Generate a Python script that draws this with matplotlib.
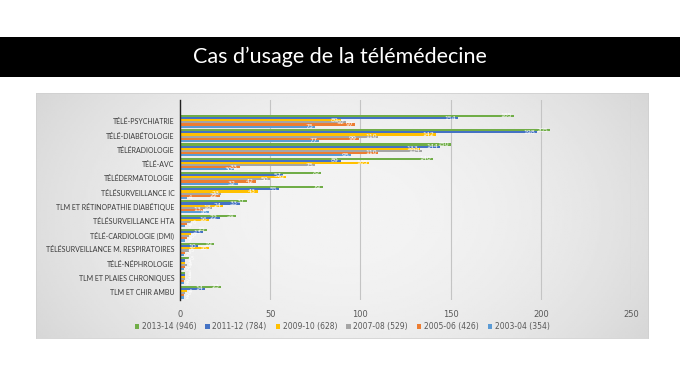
import matplotlib.pyplot as plt
import numpy as np

# données
categories = ['TÉLÉ-PSYCHIATRIE', 'TÉLÉ-DIABÉTOLOGIE', 'TÉLÉRADIOLOGIE', 'TÉLÉ-AVC',
              'TÉLÉDERMATOLOGIE', 'TÉLÉSURVEILLANCE IC', 'TLM ET RÉTINOPATHIE DIABÉTIQUE',
              'TÉLÉSURVEILLANCE HTA', 'TÉLÉ-CARDIOLOGIE (DMI)',
              'TÉLÉSURVEILLANCE M. RESPIRATOIRES', 'TÉLÉ-NÉPHROLOGIE',
              'TLM ET PLAIES CHRONIQUES', 'TLM ET CHIR AMBU']
v_2013_14 = [185, 205, 150, 140, 78, 79, 37, 31, 15, 19, 5, 3, 23]
v_2011_12 = [154, 198, 144, 89, 57, 55, 33, 22, 13, 10, 3, 3, 14]
v_2009_10 = [89, 142, 133, 105, 59, 43, 24, 16, 6, 16, 3, 3, 4]
v_2007_08 = [92, 110, 134, 75, 50, 23, 18, 6, 5, 5, 4, 3, 3]
v_2005_06 = [97, 99, 110, 33, 42, 22, 13, 4, 4, 3, 3, 2, 2]
v_2003_04 = [75, 77, 95, 30, 32, 4, 16, 3, 3, 2, 2, 2, 2]
series = ['2013-14 (946)', '2011-12 (784)', '2009-10 (628)',
          '2007-08 (529)', '2005-06 (426)', '2003-04 (354)']
valeurs = [v_2013_14, v_2011_12, v_2009_10, v_2007_08, v_2005_06, v_2003_04]
couleurs = ['#70AD47', '#4472C4', '#FFC000', '#A5A5A5', '#ED7D31', '#5B9BD5']

fig = plt.figure(figsize=(6.8, 3.83), dpi=100)
fig.patch.set_facecolor('white')

# bandeau noir du titre
bandeau = fig.add_axes([0, 0.799, 1, 0.1044])
bandeau.set_facecolor('black')
bandeau.set_xticks([])
bandeau.set_yticks([])
for s in bandeau.spines.values():
    s.set_visible(False)
bandeau.text(0.5, 0.5, 'Cas d\u2019usage de la télémédecine', color='white',
             fontsize=15.5, family='Lato', ha='center', va='center',
             transform=bandeau.transAxes)

# fond gris dégradé du graphique
fond = fig.add_axes([0.053, 0.1175, 0.9, 0.64])
gx = np.linspace(-1, 1, 300)
gy = np.linspace(-1, 1, 120)
X, Y = np.meshgrid(gx, gy)
grad = 0.955 - 0.085 * X**2 - 0.03 * Y**2
fond.imshow(grad, cmap='gray', vmin=0, vmax=1, aspect='auto', extent=[0, 1, 0, 1])
fond.set_xticks([])
fond.set_yticks([])
for s in fond.spines.values():
    s.set_edgecolor('#d0d0d0')
    s.set_linewidth(0.6)

ax = fig.add_axes([0.2647, 0.2167, 0.6633, 0.5223])
ax.patch.set_alpha(0)

y = np.arange(len(categories))
h = 0.15
for i, (nom, vals, c) in enumerate(zip(series, valeurs, couleurs)):
    pos = y + (i - 2.5) * h
    ax.barh(pos, vals, height=h, color=c, label=nom, zorder=3)
    for p, v in zip(pos, vals):
        # étiquettes blanches en bout de barre, à droite pour les petites valeurs
        if v >= 10:
            ax.text(v - 1, p, str(v), color='white', fontsize=4.5, ha='right',
                    va='center', zorder=4)
        else:
            ax.text(v + 1, p, str(v), color='white', fontsize=3.5, ha='left',
                    va='center', zorder=4)

ax.set_xlim(0, 250)
ax.set_ylim(12.55, -1.5)
ax.set_xticks(range(0, 251, 50))
ax.set_yticks(y)
ax.set_yticklabels(categories, fontsize=5, color='#3a3a3a', family='Lato')
ax.tick_params(axis='x', labelsize=6, colors='#595959', length=0, pad=7)
ax.tick_params(axis='y', length=0, pad=4)
ax.grid(axis='x', color='#c4c4c4', linewidth=0.8, zorder=0)
for s in ['top', 'right', 'bottom']:
    ax.spines[s].set_visible(False)
ax.spines['left'].set_color('#222222')
ax.spines['left'].set_linewidth(1)
ax.spines['left'].set_zorder(5)

fig.legend(loc='center', bbox_to_anchor=(0.503, 0.148), ncol=6, frameon=False,
           fontsize=5.5, handlelength=0.6, handleheight=0.6, columnspacing=1.2,
           handletextpad=0.3, labelcolor='#595959')

plt.savefig('out.png', dpi=100)
